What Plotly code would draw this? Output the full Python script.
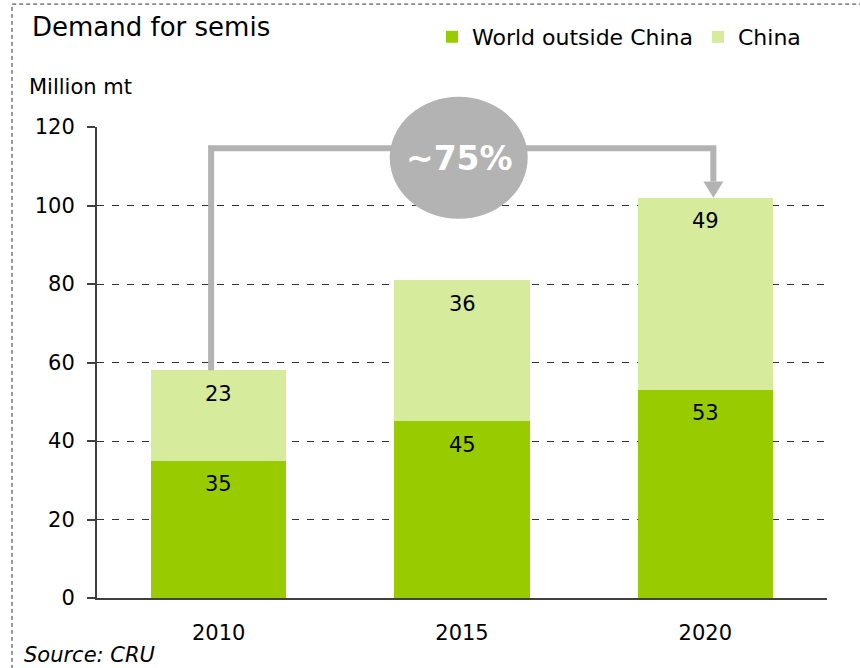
import plotly.graph_objects as go

years = ["2010", "2015", "2020"]
world_ex_china = [35, 45, 53]
china = [23, 36, 49]
y_ticks = [0, 20, 40, 60, 80, 100, 120]
growth_label = "~75%"

GREEN = "#99cc00"
LIGHT = "#d6eb9b"
GREY = "#b3b3b3"
AXIS = "#404040"
FONT = "DejaVu Sans"

W, H = 860, 668

pos = list(range(len(years)))
totals = [a + b for a, b in zip(world_ex_china, china)]

fig = go.Figure()
fig.add_trace(go.Bar(x=pos, y=world_ex_china, name="World outside China",
                     marker=dict(color=GREEN, line=dict(width=0)), width=0.555,
                     hoverinfo="skip"))
fig.add_trace(go.Bar(x=pos, y=china, name="China",
                     marker=dict(color=LIGHT, line=dict(width=0)), width=0.555,
                     hoverinfo="skip"))

# segment labels, sitting near the top of each segment
annotations = []
for i in pos:
    for base, val in ((0, world_ex_china[i]), (world_ex_china[i], china[i])):
        annotations.append(dict(x=i, y=base + val, xref="x", yref="y", text=str(val),
                                showarrow=False, xanchor="center", yanchor="middle",
                                yshift=-23.5,
                                font=dict(family=FONT, size=21, color="black")))

# growth bracket from the 2010 total to the 2020 total
bracket_y = 114.6
x_start = pos[0] - 0.031
x_end = pos[-1] + 0.033
head_h, head_w = 4.1, 0.041
shapes = [
    dict(type="path", xref="x", yref="y", layer="above",
         path=f"M{x_start},{totals[0]} L{x_start},{bracket_y} L{x_end},{bracket_y} L{x_end},{totals[-1] + head_h}",
         line=dict(color=GREY, width=6)),
    dict(type="path", xref="x", yref="y", layer="above",
         path=f"M{x_end - head_w},{totals[-1] + head_h} L{x_end + head_w},{totals[-1] + head_h} L{x_end},{totals[-1]} Z",
         fillcolor=GREY, line=dict(width=0)),
    dict(type="circle", xref="paper", yref="paper", layer="above",
         x0=0.401, x1=0.590, y0=0.805, y1=1.064,
         fillcolor=GREY, line=dict(width=0)),
    # dashed frame round the whole chart
    dict(type="rect", xref="paper", yref="paper", layer="below",
         x0=-0.1164, x1=1.2, y0=-0.3, y1=1.261,
         line=dict(color="#333333", width=1, dash="4px,3px")),
]

annotations += [
    dict(x=0.496, y=0.934, xref="paper", yref="paper", text=f"<b>{growth_label}</b>",
         showarrow=False, xanchor="center", yanchor="middle",
         font=dict(family=FONT, size=33, color="white")),
    dict(x=-0.0918, y=1.212, xref="paper", yref="paper", text="Demand for semis",
         showarrow=False, xanchor="left", yanchor="middle",
         font=dict(family=FONT, size=26, color="black")),
    dict(x=-0.0959, y=1.085, xref="paper", yref="paper", text="Million mt",
         showarrow=False, xanchor="left", yanchor="middle",
         font=dict(family=FONT, size=21, color="black")),
    dict(x=-0.1027, y=-0.121, xref="paper", yref="paper", text="<i>Source: CRU</i>",
         showarrow=False, xanchor="left", yanchor="middle",
         font=dict(family=FONT, size=21, color="black")),
]

fig.update_layout(
    width=W, height=H, autosize=False,
    margin=dict(l=97, r=33, t=127, b=70),
    paper_bgcolor="white", plot_bgcolor="white",
    barmode="stack", bargap=0.445,
    showlegend=True,
    legend=dict(orientation="h", xref="container", yref="container", traceorder="normal",
                x=432 / W, y=1 - 37 / H, xanchor="left", yanchor="middle",
                font=dict(family=FONT, size=22, color="black"),
                bgcolor="rgba(0,0,0,0)", itemclick=False, itemdoubleclick=False),
    xaxis=dict(range=[-0.5, 2.5], tickvals=pos, ticktext=years, showgrid=False,
               zeroline=False, showline=True, linecolor=AXIS, linewidth=2,
               ticks="", ticklabelstandoff=15,
               tickfont=dict(family=FONT, size=21, color="black"), fixedrange=True),
    yaxis=dict(range=[0, 120], tickvals=y_ticks, showgrid=True, gridcolor="#333333",
               gridwidth=1, griddash="7px,8px", zeroline=False, showline=True,
               linecolor=AXIS, linewidth=2, ticks="outside", ticklen=8,
               tickcolor=AXIS, tickwidth=2, ticklabelstandoff=8,
               tickfont=dict(family=FONT, size=21, color="black"), fixedrange=True),
    shapes=shapes,
    annotations=annotations,
)

# drop the browser's default page margin so the figure sits at the window corner
fig.write_html("out.html", config={"displayModeBar": False},
               post_script="document.body.style.margin = '0px';")
